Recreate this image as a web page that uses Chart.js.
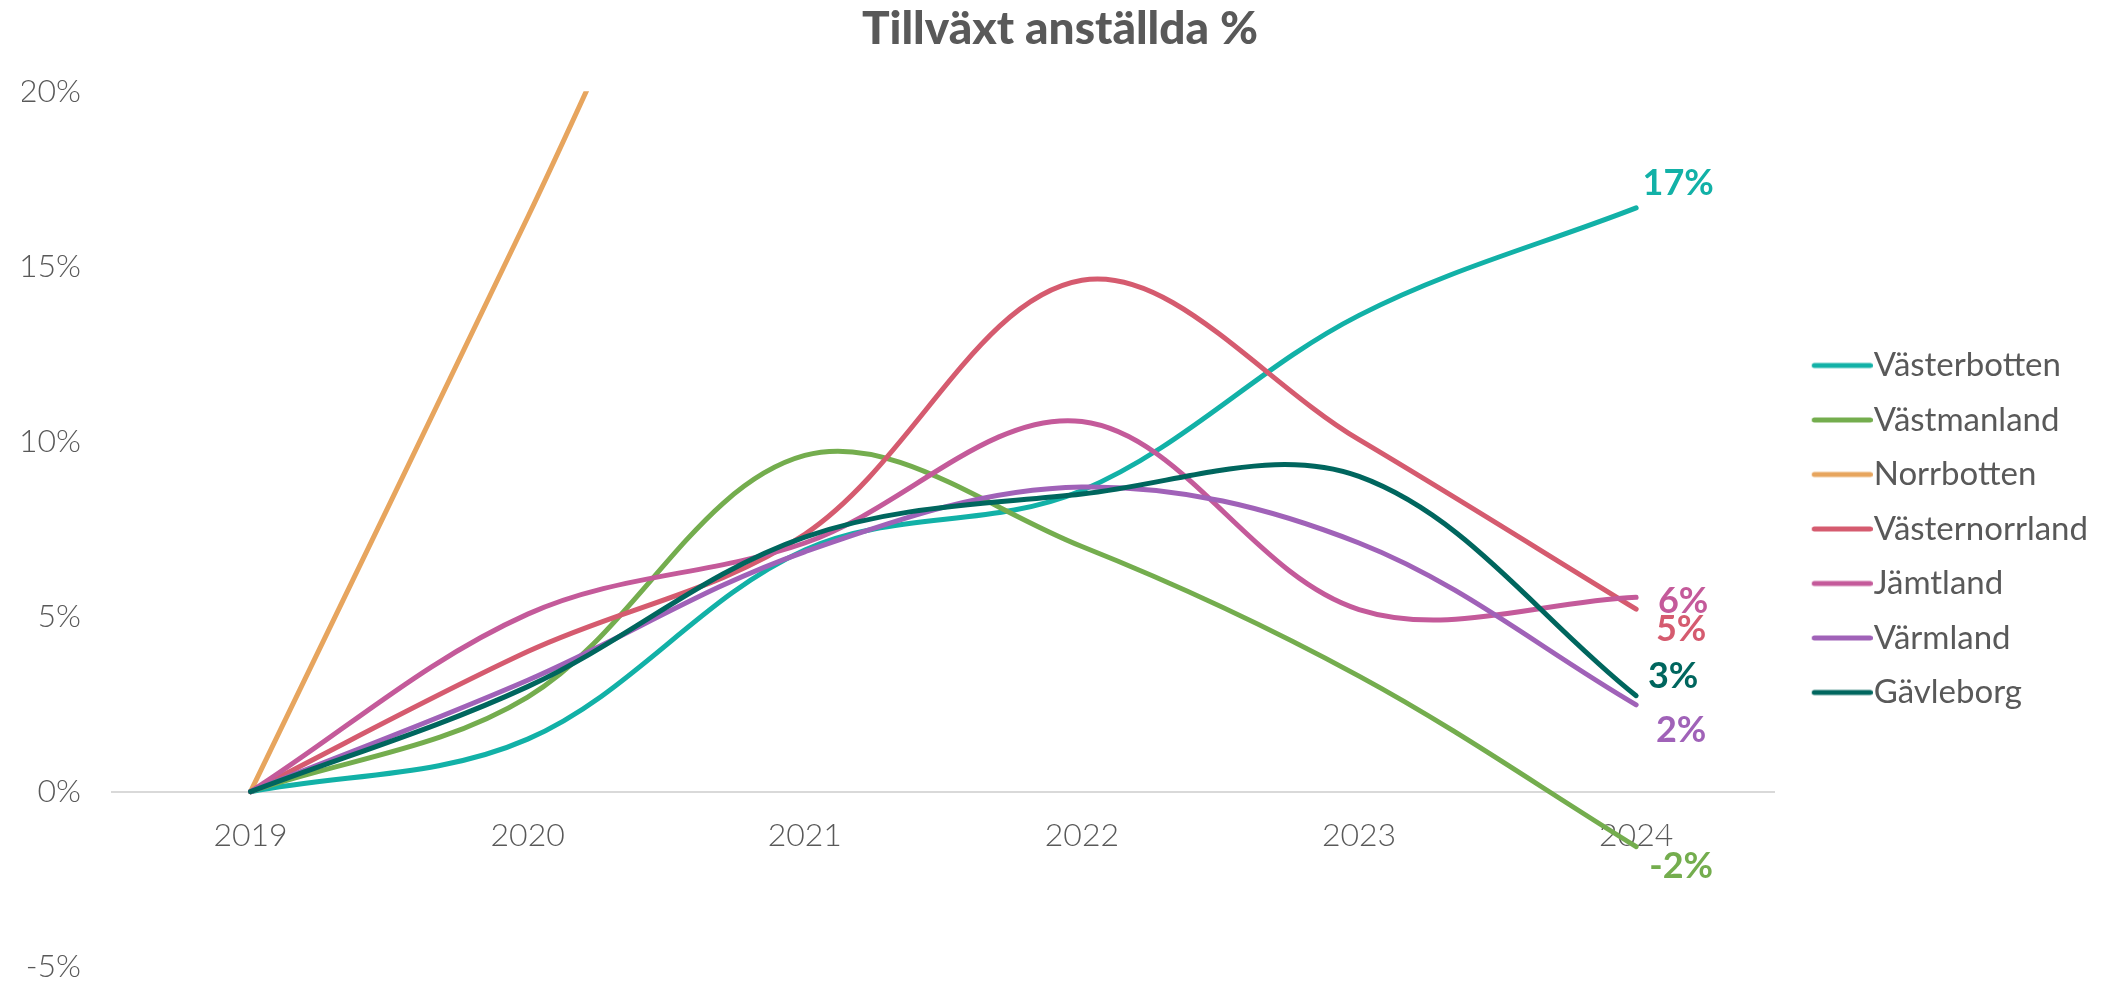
<!DOCTYPE html>
<html><head><meta charset="utf-8">
<script src="https://cdn.jsdelivr.net/npm/chart.js@4.4.1/dist/chart.umd.min.js"></script>
<style>html,body{margin:0;padding:0;background:#fff}#wrap{width:2107px;height:986px;position:relative}</style>
</head><body><div id="wrap"><canvas id="c"></canvas></div>
<script>
// ---- data (percent) ----
const years = ['2019', '2020', '2021', '2022', '2023', '2024'];
const seriesNames = ['Västerbotten', 'Västmanland', 'Norrbotten', 'Västernorrland', 'Jämtland', 'Värmland', 'Gävleborg'];
const vasterbotten   = [0, 1.5, 6.9, 8.6, 13.6, 16.67];
const vastmanland    = [0, 2.7, 9.6, 7.0, 3.3, -1.57];
const norrbotten     = [0, 16.4, 33, 45, 50, 52];
const vasternorrland = [0, 4.0, 7.35, 14.6, 10.05, 5.21];
const jamtland       = [0, 5.07, 7.1, 10.57, 5.2, 5.55];
const varmland       = [0, 3.18, 6.85, 8.7, 7.1, 2.48];
const gavleborg      = [0, 3.0, 7.27, 8.5, 9.0, 2.74];
const yMin = -5, yMax = 20, yStep = 5;

// ---- styles ----
const colors = ['#12B1A7', '#74AD4E', '#E7A55E', '#D55B6F', '#C45A9A', '#A062B8', '#00665E'];
const labelOffsets = [[42, -24], [45, 20], null, [45, 20], [47, 4], [45, 26], [37, -19]];
const textGrey = '#595959';
const FONT = 'Lato';

function legendLine(color) {
  const c = document.createElement('canvas');
  c.width = 92; c.height = 8;
  const x = c.getContext('2d');
  x.strokeStyle = color; x.lineWidth = 5; x.lineCap = 'round';
  x.beginPath(); x.moveTo(33.5, 4); x.lineTo(89.5, 4); x.stroke();
  return c;
}

const allData = [vasterbotten, vastmanland, norrbotten, vasternorrland, jamtland, varmland, gavleborg];
const datasets = allData.map((d, i) => ({
  label: seriesNames[i],
  data: d,
  borderColor: colors[i],
  backgroundColor: colors[i],
  borderWidth: 5,
  borderCapStyle: 'round',
  borderJoinStyle: 'round',
  pointRadius: 0,
  pointHoverRadius: 0,
  pointStyle: legendLine(colors[i]),
  tension: 0.35,
  fill: false,
  order: seriesNames.length - i,
  clip: 0
}));

const endLabels = {
  id: 'endLabels',
  afterDatasetsDraw(chart) {
    const ctx = chart.ctx;
    chart.data.datasets.forEach((ds, i) => {
      const off = labelOffsets[i];
      if (!off) return;
      const meta = chart.getDatasetMeta(i);
      const pt = meta.data[meta.data.length - 1];
      const v = ds.data[ds.data.length - 1];
      ctx.save();
      ctx.font = '700 36px ' + FONT;
      ctx.fillStyle = ds.borderColor;
      ctx.textAlign = 'center';
      ctx.textBaseline = 'middle';
      ctx.fillText(Math.round(v) + '%', pt.x + off[0], pt.y + off[1]);
      ctx.restore();
    });
  }
};

new Chart(document.getElementById('c'), {
  type: 'line',
  data: { labels: years, datasets },
  plugins: [endLabels],
  options: {
    responsive: true,
    maintainAspectRatio: false,
    devicePixelRatio: 1,
    animation: false,
    events: [],
    layout: { padding: { left: 22, right: 9, top: 0, bottom: -1 } },
    plugins: {
      title: {
        display: true,
        text: 'Tillväxt anställda %',
        color: textGrey,
        font: { family: FONT, size: 46, weight: 900 },
        padding: { top: 2, bottom: 34 }
      },
      legend: {
        position: 'right',
        align: 'center',
        fullSize: false,
        reverse: true,
        labels: {
          usePointStyle: true,
          pointStyleWidth: 61,
          color: textGrey,
          font: { family: FONT, size: 33, weight: 400 },
          padding: 21.5
        }
      },
      tooltip: { enabled: false }
    },
    scales: {
      x: {
        type: 'category',
        offset: true,
        position: { y: 0 },
        grid: { display: false, drawTicks: false },
        border: { display: true, color: '#d9d9d9', width: 2 },
        ticks: { color: textGrey, font: { family: FONT, size: 32, weight: 300 }, padding: 25, maxRotation: 0 }
      },
      y: {
        min: yMin,
        max: yMax,
        grid: { display: false, drawTicks: true, tickLength: 31 },
        border: { display: false },
        ticks: {
          stepSize: yStep,
          color: textGrey,
          font: { family: FONT, size: 32, weight: 300 },
          padding: 0,
          callback: v => v + '%'
        },
        afterFit(s) { s.width = 90; }
      }
    }
  }
});
</script>
</body></html>
